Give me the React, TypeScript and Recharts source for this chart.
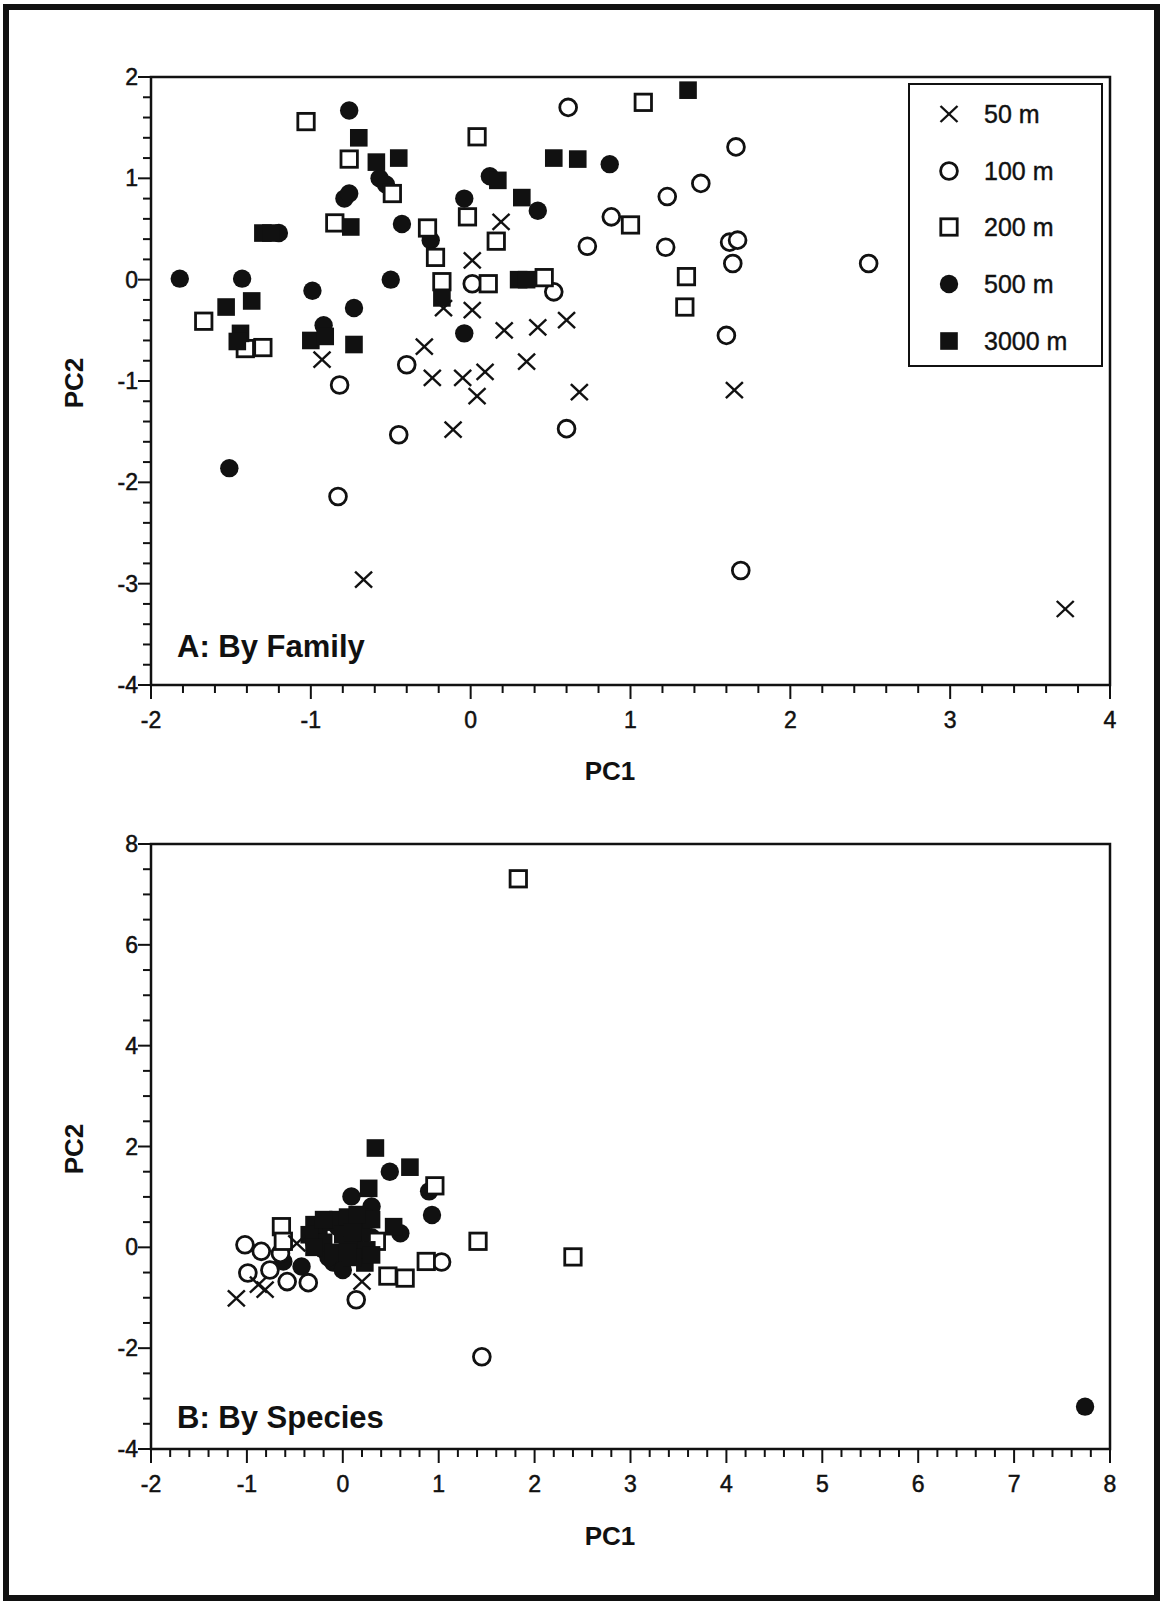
import React from "react";
import { ScatterChart, Scatter, XAxis, YAxis, ReferenceArea, Legend } from "recharts";

type Pt = [number, number];

// Panel A: by family (PC1, PC2)
const fam50: Pt[] = [
  [-0.93, -0.79], [-0.29, -0.66], [-0.24, -0.97], [-0.17, -0.28], [-0.05, -0.97],
  [0.01, -0.3], [0.01, 0.19], [0.19, 0.57], [0.21, -0.5], [0.42, -0.47],
  [0.6, -0.4], [0.35, -0.81], [0.09, -0.91], [0.04, -1.15], [-0.11, -1.48],
  [0.68, -1.11], [-0.67, -2.96], [1.65, -1.09], [3.72, -3.25],
];
const fam100: Pt[] = [
  [0.61, 1.7], [1.66, 1.31], [1.44, 0.95], [1.23, 0.82], [0.88, 0.62],
  [0.73, 0.33], [1.22, 0.32], [1.62, 0.37], [1.67, 0.39], [1.64, 0.16],
  [0.52, -0.12], [0.01, -0.04], [1.6, -0.55], [2.49, 0.16], [-0.82, -1.04],
  [-0.45, -1.53], [0.6, -1.47], [-0.83, -2.14], [1.69, -2.87], [-0.4, -0.84],
];
const fam200: Pt[] = [
  [-1.03, 1.56], [-0.76, 1.19], [-0.49, 0.85], [-0.85, 0.56], [-0.27, 0.51],
  [-0.22, 0.22], [-0.18, -0.02], [-1.67, -0.41], [-1.41, -0.68], [-1.3, -0.67],
  [0.04, 1.41], [-0.02, 0.62], [1.08, 1.75], [0.16, 0.38], [0.11, -0.04],
  [0.46, 0.02], [1.0, 0.54], [1.35, 0.03], [1.34, -0.27],
];
const fam500: Pt[] = [
  [-0.76, 1.67], [-0.57, 1.0], [-0.53, 0.94], [-0.79, 0.8], [-0.76, 0.85],
  [-0.43, 0.55], [-0.25, 0.39], [-0.04, 0.8], [-1.82, 0.01], [-1.43, 0.01],
  [-0.99, -0.11], [-0.73, -0.28], [-0.5, 0.0], [-0.92, -0.45], [-0.04, -0.53],
  [0.12, 1.02], [0.87, 1.14], [0.42, 0.68], [-1.51, -1.86], [-1.2, 0.46],
];
const fam3000: Pt[] = [
  [-0.7, 1.4], [-0.59, 1.16], [-0.45, 1.2], [-0.75, 0.52], [-1.3, 0.46],
  [-1.25, 0.46], [-1.53, -0.27], [-1.37, -0.21], [-1.44, -0.53], [-1.46, -0.61],
  [-1.0, -0.6], [-0.91, -0.56], [-0.73, -0.64], [-0.18, -0.18], [1.36, 1.87],
  [0.52, 1.2], [0.67, 1.19], [0.17, 0.98], [0.32, 0.81], [0.3, 0.0], [0.35, 0.0],
];

// Panel B: by species
const spc50: Pt[] = [
  [-1.11, -1.01], [-0.88, -0.74], [-0.81, -0.84], [-0.48, 0.08], [0.2, -0.68],
];
const spc100: Pt[] = [
  [-1.02, 0.05], [-0.85, -0.08], [-0.99, -0.51], [-0.76, -0.45], [-0.58, -0.68],
  [-0.36, -0.7], [-0.65, -0.12], [0.14, -1.04], [1.03, -0.29], [1.45, -2.17],
];
const spc200: Pt[] = [
  [1.83, 7.31], [1.41, 0.12], [2.4, -0.19], [0.96, 1.22], [0.87, -0.28],
  [0.47, -0.57], [0.65, -0.61], [0.35, 0.12], [-0.64, 0.41], [-0.62, 0.12],
];
const spc500: Pt[] = [
  [0.49, 1.5], [0.9, 1.11], [0.93, 0.64], [0.09, 1.01], [0.3, 0.81],
  [0.6, 0.28], [-0.62, -0.28], [-0.43, -0.38], [7.74, -3.16], [-0.1, -0.3],
  [0.3, 0.2], [0.15, 0.25], [-0.2, -0.05], [0.05, 0.1], [0.25, 0.6],
  [-0.3, 0.1], [0.0, -0.45], [-0.15, -0.2], [0.2, -0.2], [-0.05, 0.4],
];
const spc3000: Pt[] = [
  [0.34, 1.97], [0.7, 1.59], [0.27, 1.17], [0.53, 0.41], [0.23, -0.31],
  [-0.25, 0.3], [-0.15, 0.5], [-0.05, 0.55], [0.05, 0.6], [0.15, 0.45],
  [0.2, 0.3], [-0.2, 0.1], [0.0, 0.25], [0.1, 0.05], [0.25, -0.05],
  [-0.1, -0.1], [-0.3, 0.45], [0.1, -0.2], [-0.35, 0.25], [-0.3, 0.0],
  [0.05, -0.1], [0.3, 0.55], [0.15, 0.65], [0.1, 0.3], [-0.2, 0.55], [0.3, -0.15],
];

const depthLabels = ["50 m", "100 m", "200 m", "500 m", "3000 m"];

const famXLabels = [-2, -1, 0, 1, 2, 3, 4];
const famYLabels = [-4, -3, -2, -1, 0, 1, 2];
const spcXLabels = [-2, -1, 0, 1, 2, 3, 4, 5, 6, 7, 8];
const spcYLabels = [-4, -2, 0, 2, 4, 6, 8];

const INK = "#111";
const FONT = "'Liberation Sans', Arial, Helvetica, sans-serif";

const steps = (from: number, to: number, step: number) => {
  const out: number[] = [];
  const n = Math.round((to - from) / step);
  for (let i = 0; i <= n; i++) out.push(Math.round((from + i * step) * 100) / 100);
  return out;
};

const toRows = (pts: Pt[]) => pts.map(([x, y]) => ({ x, y }));

// markers
const Cross = ({ cx, cy }: any) => (
  <g stroke={INK} strokeWidth={2.4}>
    <line x1={cx - 8.5} y1={cy - 8} x2={cx + 8.5} y2={cy + 8} />
    <line x1={cx - 8.5} y1={cy + 8} x2={cx + 8.5} y2={cy - 8} />
  </g>
);
const OpenCircle = ({ cx, cy }: any) => (
  <circle cx={cx} cy={cy} r={8.4} fill="#fff" stroke={INK} strokeWidth={2.8} />
);
const OpenSquare = ({ cx, cy }: any) => (
  <rect x={cx - 8.2} y={cy - 8.2} width={16.4} height={16.4} fill="#fff" stroke={INK} strokeWidth={2.8} />
);
const Dot = ({ cx, cy }: any) => <circle cx={cx} cy={cy} r={9.2} fill={INK} />;
const Block = ({ cx, cy }: any) => (
  <rect x={cx - 8.8} y={cy - 8.8} width={17.6} height={17.6} fill={INK} />
);
const markers = [Cross, OpenCircle, OpenSquare, Dot, Block];

const isIn = (list: number[], v: number) => list.some((l) => Math.abs(l - v) < 1e-6);

const makeXTick = (labels: number[]) => (props: any) => {
  const { x, y, payload } = props;
  const v = payload.value;
  const major = isIn(labels, v);
  return (
    <g>
      <line x1={x} y1={y} x2={x} y2={y + (major ? 14 : 8)} stroke={INK} strokeWidth={2} />
      {major && (
        <text x={x} y={y + 43} textAnchor="middle" fontSize={23} fontFamily={FONT} fill={INK} stroke={INK} strokeWidth={0.5}>
          {v}
        </text>
      )}
    </g>
  );
};

const makeYTick = (labels: number[]) => (props: any) => {
  const { x, y, payload } = props;
  const v = payload.value;
  const major = isIn(labels, v);
  return (
    <g>
      <line x1={x} y1={y} x2={x - (major ? 13 : 8)} y2={y} stroke={INK} strokeWidth={2} />
      {major && (
        <text x={x - 13} y={y + 8} textAnchor="end" fontSize={23} fontFamily={FONT} fill={INK} stroke={INK} strokeWidth={0.5}>
          {v}
        </text>
      )}
    </g>
  );
};

const DepthLegend = () => (
  <div
    style={{
      width: 195,
      height: 284,
      boxSizing: "border-box",
      border: `2px solid ${INK}`,
      background: "#fff",
      position: "relative",
      fontFamily: FONT,
      fontSize: 25,
      color: INK,
      WebkitTextStroke: "0.4px #111",
    }}
  >
    {depthLabels.map((label, i) => {
      const Marker = markers[i];
      return (
        <div key={label} style={{ position: "absolute", left: 0, top: 14 + i * 56.7, height: 30, width: 190 }}>
          <svg width={60} height={30} style={{ position: "absolute", left: 9, top: 0 }}>
            <Marker cx={30} cy={15} />
          </svg>
          <span style={{ position: "absolute", left: 74, top: 0, lineHeight: "30px" }}>{label}</span>
        </div>
      );
    })}
  </div>
);

// draw order: 500, 100, 200, 3000, 50
const drawOrder = [3, 1, 2, 4, 0];

const Panel = ({
  series,
  xDomain,
  yDomain,
  xLabels,
  yLabels,
  yStep,
  height,
  margin,
  withLegend,
}: any) => (
  <ScatterChart width={1161} height={height} margin={margin}>
    <XAxis
      type="number"
      dataKey="x"
      domain={xDomain}
      ticks={steps(xDomain[0], xDomain[1], 0.2)}
      interval={0}
      tick={makeXTick(xLabels)}
      tickLine={false}
      tickSize={0}
      tickMargin={0}
      axisLine={false}
      height={1}
      allowDataOverflow
    />
    <YAxis
      type="number"
      dataKey="y"
      domain={yDomain}
      ticks={steps(yDomain[0], yDomain[1], yStep)}
      interval={0}
      tick={makeYTick(yLabels)}
      tickLine={false}
      tickSize={0}
      tickMargin={0}
      axisLine={false}
      width={1}
      allowDataOverflow
    />
    <ReferenceArea
      x1={xDomain[0]}
      x2={xDomain[1]}
      y1={yDomain[0]}
      y2={yDomain[1]}
      fill="none"
      fillOpacity={0}
      stroke={INK}
      strokeWidth={2.5}
      strokeOpacity={1}
    />
    {drawOrder.map((i) => (
      <Scatter
        key={depthLabels[i]}
        name={depthLabels[i]}
        data={toRows(series[i])}
        shape={markers[i]}
        isAnimationActive={false}
      />
    ))}
    {withLegend && (
      <Legend
        layout="vertical"
        align="center"
        verticalAlign="middle"
        content={() => <DepthLegend />}
        wrapperStyle={{ left: 908, top: 83, width: 195, height: 284 }}
      />
    )}
  </ScatterChart>
);

export default function App() {
  const textStyle = { fontFamily: FONT, fill: INK, fontWeight: "bold" as const };
  return (
    <div style={{ position: "absolute", left: 0, top: 0, width: 1161, height: 1602, background: "#fff", overflow: "hidden" }}>
      <div style={{ position: "absolute", left: 0, top: 0 }}>
        <Panel
          series={[fam50, fam100, fam200, fam500, fam3000]}
          xDomain={[-2, 4]}
          yDomain={[-4, 2]}
          xLabels={famXLabels}
          yLabels={famYLabels}
          yStep={0.2}
          height={780}
          margin={{ top: 77, right: 51, left: 150, bottom: 94 }}
          withLegend
        />
      </div>
      <div style={{ position: "absolute", left: 0, top: 780 }}>
        <Panel
          series={[spc50, spc100, spc200, spc500, spc3000]}
          xDomain={[-2, 8]}
          yDomain={[-4, 8]}
          xLabels={spcXLabels}
          yLabels={spcYLabels}
          yStep={0.5}
          height={822}
          margin={{ top: 64, right: 51, left: 150, bottom: 152 }}
        />
      </div>
      <svg width={1161} height={1602} style={{ position: "absolute", left: 0, top: 0, pointerEvents: "none" }}>
        <text x={610} y={780} textAnchor="middle" fontSize={26} {...textStyle}>PC1</text>
        <text transform="translate(83,383) rotate(-90)" textAnchor="middle" fontSize={26} {...textStyle}>PC2</text>
        <text x={177} y={657} fontSize={31} {...textStyle}>A: By Family</text>
        <text x={610} y={1545} textAnchor="middle" fontSize={26} {...textStyle}>PC1</text>
        <text transform="translate(83,1149) rotate(-90)" textAnchor="middle" fontSize={26} {...textStyle}>PC2</text>
        <text x={177} y={1428} fontSize={31} {...textStyle}>B: By Species</text>
      </svg>
      <div
        style={{
          position: "absolute",
          left: 3,
          top: 4,
          width: 1157,
          height: 1597,
          boxSizing: "border-box",
          border: `6px solid ${INK}`,
          pointerEvents: "none",
        }}
      />
    </div>
  );
}
